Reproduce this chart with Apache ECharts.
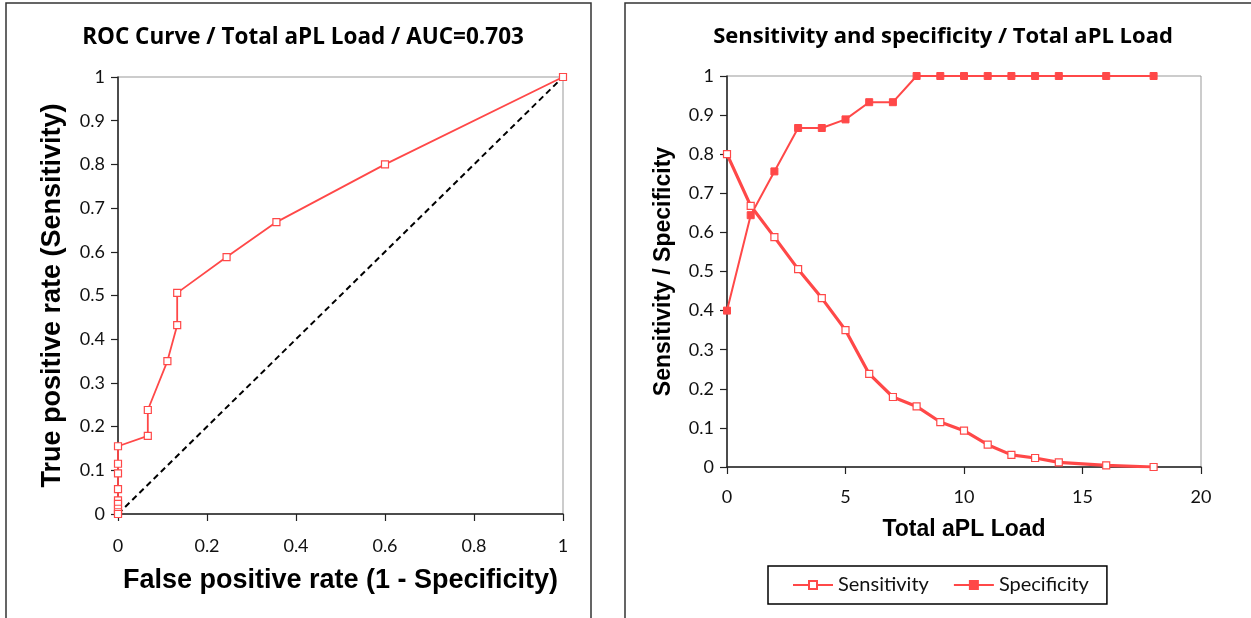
<!DOCTYPE html>
<html>
<head>
<meta charset="utf-8">
<script src="https://cdn.jsdelivr.net/npm/echarts@6/dist/echarts.min.js"></script>
<style>
    html, body { margin: 0; padding: 0; background: #fff; }
    #container { width: 1251px; height: 618px; }
</style>
</head>
<body>
<div id="container"></div>
<script type="text/javascript">
    // thresholds of Total aPL Load
    var loads = [0, 1, 2, 3, 4, 5, 6, 7, 8, 9, 10, 11, 12, 13, 14, 16, 18];
    var sensitivity = [0.8, 0.668, 0.588, 0.506, 0.432, 0.35, 0.238, 0.179, 0.155, 0.115, 0.093, 0.057, 0.031, 0.023, 0.012, 0.004, 0];
    var specificity = [0.4, 0.644, 0.756, 0.867, 0.867, 0.889, 0.933, 0.933, 1, 1, 1, 1, 1, 1, 1, 1, 1];

    var red = '#ff4848';
    var labelFont = 'Lato, "Noto Sans", sans-serif';
    var headFont = '"Open Sans", Lato, sans-serif';
    var titleFont = '"Liberation Sans", Arial, sans-serif';

    // ROC points: (1 - specificity, sensitivity), plus (1, 1)
    var roc = [[1, 1]];
    for (var i = 0; i < loads.length; i++) {
        roc.push([+(1 - specificity[i]).toFixed(3), sensitivity[i]]);
    }
    var diagonal = [[0, 0], [1, 1]];

    var dom = document.getElementById("container");
    var myChart = echarts.init(dom);

    function fmt(v) { return String(+v.toFixed(1)); }

    function valueAxis(gridIndex, extra) {
        var ax = {
            type: 'value',
            gridIndex: gridIndex,
            min: 0,
            max: 1,
            interval: 0.1,
            splitLine: {show: false},
            axisLine: {show: true, onZero: false, lineStyle: {color: '#222', width: 1.5}},
            axisTick: {show: true, length: 7, lineStyle: {color: '#222', width: 1.2}},
            axisLabel: {color: '#111', fontSize: 18, fontFamily: labelFont, margin: 13, formatter: fmt}
        };
        for (var k in extra) ax[k] = extra[k];
        return ax;
    }

    var option = {
        animation: false,
        backgroundColor: '#fff',
        graphic: [
            {type: 'rect', shape: {x: 6, y: 3, width: 585, height: 640}, style: {fill: 'none', stroke: '#333', lineWidth: 1.5}},
            {type: 'rect', shape: {x: 625, y: 3, width: 640, height: 640}, style: {fill: 'none', stroke: '#333', lineWidth: 1.5}}
        ],
        title: [
            {
                text: 'ROC Curve / Total aPL Load / AUC=0.703',
                left: 298, top: 21, textAlign: 'center',
                textStyle: {fontSize: 22.5, fontWeight: 'bold', color: '#000', fontFamily: headFont}
            },
            {
                text: 'Sensitivity and specificity / Total aPL Load',
                left: 938, top: 21, textAlign: 'center',
                textStyle: {fontSize: 22, fontWeight: 'bold', color: '#000', fontFamily: headFont}
            }
        ],
        legend: {
            data: ['Sensitivity', 'Specificity'],
            left: 768, top: 566,
            itemWidth: 40, itemHeight: 10, itemGap: 24,
            padding: [9, 18, 9, 24],
            borderColor: '#000', borderWidth: 1.5,
            textStyle: {fontSize: 20, color: '#111', fontFamily: labelFont}
        },
        grid: [
            {left: 118, top: 77, width: 445, height: 437, show: true, borderColor: '#999', borderWidth: 1, backgroundColor: 'transparent'},
            {left: 727, top: 76, width: 474, height: 391, show: true, borderColor: '#999', borderWidth: 1, backgroundColor: 'transparent'}
        ],
        xAxis: [
            valueAxis(0, {
                interval: 0.2,
                name: 'False positive rate (1 - Specificity)',
                nameLocation: 'middle', nameGap: 53,
                nameTextStyle: {color: '#000', fontSize: 27, fontWeight: 'bold', fontFamily: titleFont},
                axisLabel: {color: '#111', fontSize: 18, fontFamily: labelFont, margin: 23, formatter: fmt}
            }),
            {
                type: 'value', gridIndex: 1, min: 0, max: 20, interval: 5,
                splitLine: {show: false},
                axisLine: {show: true, onZero: false, lineStyle: {color: '#222', width: 1.5}},
                axisTick: {show: true, length: 7, lineStyle: {color: '#222', width: 1.2}},
                axisLabel: {color: '#111', fontSize: 18, fontFamily: labelFont, margin: 21},
                name: 'Total aPL Load',
                nameLocation: 'middle', nameGap: 51,
                nameTextStyle: {color: '#000', fontSize: 23, fontWeight: 'bold', fontFamily: titleFont}
            }
        ],
        yAxis: [
            valueAxis(0, {
                name: 'True positive rate (Sensitivity)',
                nameLocation: 'middle', nameGap: 52,
                nameTextStyle: {color: '#000', fontSize: 27, fontWeight: 'bold', fontFamily: titleFont}
            }),
            valueAxis(1, {
                name: 'Sensitivity / Specificity',
                nameLocation: 'middle', nameGap: 52,
                nameTextStyle: {color: '#000', fontSize: 23, fontWeight: 'bold', fontFamily: titleFont}
            })
        ],
        series: [
            {
                name: 'diagonal',
                type: 'line',
                xAxisIndex: 0, yAxisIndex: 0,
                data: diagonal,
                symbol: 'none',
                lineStyle: {color: '#000', width: 2, type: [6, 4]},
                z: 1
            },
            {
                name: 'ROC',
                type: 'line',
                xAxisIndex: 0, yAxisIndex: 0,
                data: roc,
                symbol: 'rect', symbolSize: 7,
                showAllSymbol: true,
                lineStyle: {color: red, width: 1.8},
                itemStyle: {color: '#fff', borderColor: red, borderWidth: 1.2},
                z: 3
            },
            {
                name: 'Sensitivity',
                type: 'line',
                xAxisIndex: 1, yAxisIndex: 1,
                data: loads.map(function (x, i) { return [x, sensitivity[i]]; }),
                symbol: 'rect', symbolSize: 7,
                showAllSymbol: true,
                lineStyle: {color: red, width: 3.2},
                itemStyle: {color: '#fff', borderColor: red, borderWidth: 1.2},
                z: 3
            },
            {
                name: 'Specificity',
                type: 'line',
                xAxisIndex: 1, yAxisIndex: 1,
                data: loads.map(function (x, i) { return [x, specificity[i]]; }),
                symbol: 'rect', symbolSize: 7,
                showAllSymbol: true,
                lineStyle: {color: red, width: 2},
                itemStyle: {color: red, borderColor: red, borderWidth: 1},
                z: 3
            }
        ]
    };

    if (option && typeof option === "object") {
        myChart.setOption(option, true);
    }
</script>
</body>
</html>
